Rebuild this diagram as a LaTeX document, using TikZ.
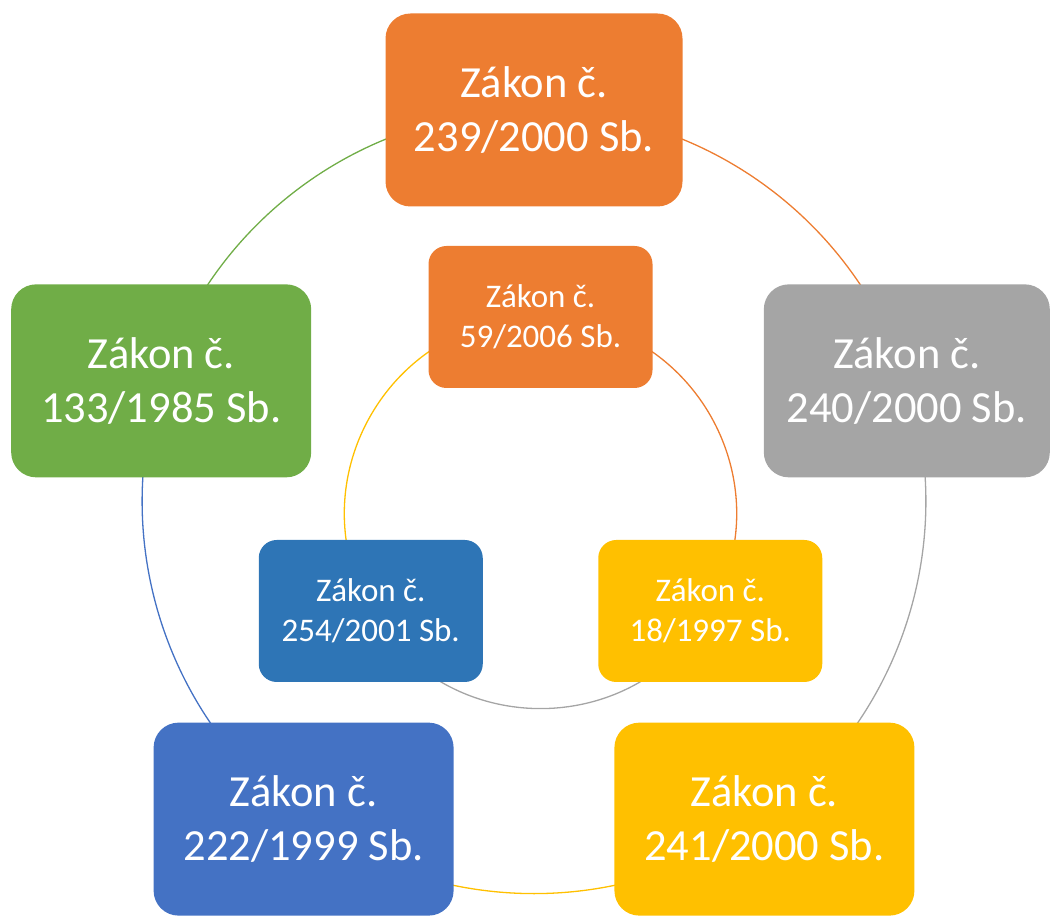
\documentclass[tikz,border=0pt]{standalone}
\usepackage{fontspec}
\setmainfont{Carlito}
\usetikzlibrary{backgrounds}

\definecolor{lawOrange}{HTML}{ED7D31}
\definecolor{lawGray}{HTML}{A5A5A5}
\definecolor{lawGold}{HTML}{FFC000}
\definecolor{lawBlue}{HTML}{4472C4}
\definecolor{lawGreen}{HTML}{70AD47}
\definecolor{lawDarkBlue}{HTML}{2E75B6}

\tikzset{%
  every law/.style={
    rectangle,
    text=white,
    align=center,
    inner sep=0pt
  },
  law outer/.style={
    minimum height=193pt,
    rounded corners=25pt,
    font=\fontsize{44.5}{54}\selectfont
  },
  law inner/.style={
    minimum width=224pt,
    minimum height=142pt,
    rounded corners=18pt,
    font=\fontsize{33}{40}\selectfont
  },
  cycle arc/.style={
    line width=1.3pt
  },
}

\begin{document}
\begin{tikzpicture}[x=1pt, y=1pt]

\useasboundingbox (0,0) rectangle (1051,917);

\foreach \n/\y/\c/\w [count=\i from 0] in {239/2000/lawOrange/297,240/2000/lawGray/286,241/2000/lawGold/300,222/1999/lawBlue/300,133/1985/lawGreen/300}
  \node [every law, law outer, minimum width=\w pt, fill=\c] (outer-\i) at ([shift={(534,415)}]90-72*\i:392)
    {Zákon č.\\\n/\y{} Sb.};

\foreach \n/\y/\c [count=\i from 0] in {59/2006/lawOrange,18/1997/lawGold,254/2001/lawDarkBlue}
  \node [every law, law inner, fill=\c] (inner-\i) at ([shift={(540.5,404)}]90-120*\i:196)
    {Zákon č.\\\n/\y{} Sb.};

% arcs behind the boxes
\begin{pgfonlayer}{background}
\foreach \i/\j/\c in {0/1/lawOrange,1/2/lawGray,2/3/lawGold,3/4/lawBlue,4/0/lawGreen}
  \draw [cycle arc, draw=\c] (outer-\i.center) to[bend left=36, looseness=0.94] (outer-\j.center);

\foreach \i/\j/\c in {0/1/lawOrange,1/2/lawGray,2/0/lawGold}
  \draw [cycle arc, draw=\c] (inner-\i.center) to[bend left=60, looseness=1.135] (inner-\j.center);
\end{pgfonlayer}

\end{tikzpicture}
\end{document}
